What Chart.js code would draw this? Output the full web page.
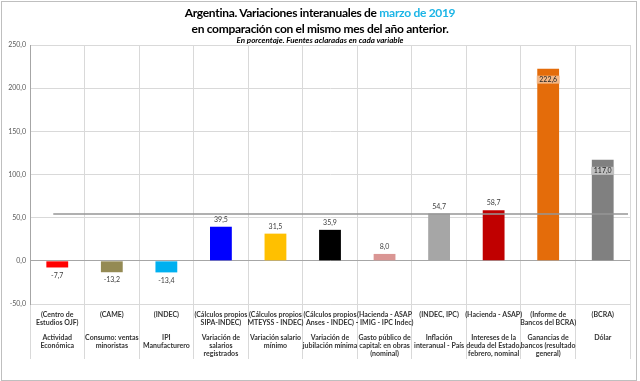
<!DOCTYPE html>
<html>
<head>
<meta charset="utf-8">
<script src="https://cdn.jsdelivr.net/npm/chart.js@4"></script>
<style>
html, body { margin: 0; padding: 0; background: #fff; }
#wrap { position: relative; width: 640px; height: 381px; overflow: hidden; }
#frame { position: absolute; left: 1px; top: 1px; width: 636px; height: 380px; border: 1px solid #BFBFBF; box-sizing: border-box; }
.t { position: absolute; left: 0; width: 640px; text-align: center; font-family: Lato, sans-serif; color: #000; white-space: nowrap; }
#t1 { top: 5px; font-size: 12px; font-weight: bold; letter-spacing: -0.3px; }
#t1 span { color: #1CB5E6; }
#t2 { top: 21px; font-size: 12px; font-weight: bold; letter-spacing: -0.3px; }
#t3 { top: 35px; font-size: 8px; font-weight: bold; font-style: italic; }
canvas { position: absolute; left: 0; top: 0; }
</style>
</head>
<body>
<div id="wrap">
  <div id="frame"></div>
  <canvas id="chart" width="640" height="381"></canvas>
  <div class="t" id="t1">Argentina. Variaciones interanuales de <span>marzo de 2019</span></div>
  <div class="t" id="t2">en comparación con el mismo mes del año anterior.</div>
  <div class="t" id="t3">En porcentaje. Fuentes aclaradas en cada variable</div>
</div>
<script>
// Fuente de cada variable
const sources = [
    ['(Centro de', 'Estudios OJF)'],
    ['(CAME)'],
    ['(INDEC)'],
    ['(Cálculos propios', 'SIPA-INDEC)'],
    ['(Cálculos propios', 'MTEYSS - INDEC)'],
    ['(Cálculos propios', 'Anses - INDEC)'],
    ['(Hacienda - ASAP', '- IMIG - IPC Indec)'],
    ['(INDEC, IPC)'],
    ['(Hacienda - ASAP)'],
    ['(Informe de', 'Bancos del BCRA)'],
    ['(BCRA)']
];

// Nombre de cada variable
const names = [
    ['Actividad', 'Económica'],
    ['Consumo: ventas', 'minoristas'],
    ['IPI', 'Manufacturero'],
    ['Variación de', 'salarios', 'registrados'],
    ['Variación salario', 'mínimo'],
    ['Variación de', 'jubilación mínima'],
    ['Gasto público de', 'capital: en obras', '(nominal)'],
    ['Inflación', 'interanual - País'],
    ['Intereses de la', 'deuda del Estado,', 'febrero, nominal'],
    ['Ganancias de', 'bancos (resultado', 'general)'],
    ['Dólar']
];

// Variacion interanual (%)
const values = [-7.7, -13.2, -13.4, 39.5, 31.5, 35.9, 8.0, 54.7, 58.7, 222.6, 117.0];

const barColors = ['#FF0000', '#948A54', '#00B0F0', '#0000FF', '#FFC000', '#000000',
                   '#DA9694', '#A6A6A6', '#C00000', '#E46C0A', '#808080'];

// eje Y
const yMin = -50;
const yMax = 250;
const yStep = 50;

// linea de referencia: inflacion interanual
const inflationRef = 54.7;

const fmt = v => v.toFixed(1).replace('.', ',');

// etiquetas: fuente (2 lineas) + separador + nombre
const labels = sources.map((s, i) => {
    const src = s.slice();
    while (src.length < 2) src.push('');
    return src.concat([''], names[i]);
});

function lighten(hex) {
    const n = parseInt(hex.slice(1), 16);
    const r = Math.round(((n >> 16) & 255) * 0.5 + 127.5);
    const g = Math.round(((n >> 8) & 255) * 0.5 + 127.5);
    const b = Math.round((n & 255) * 0.5 + 127.5);
    return 'rgb(' + r + ',' + g + ',' + b + ')';
}

// linea gris horizontal de la inflacion
const refLine = {
    id: 'refLine',
    afterDatasetsDraw(chart) {
        const { ctx, chartArea, scales } = chart;
        const yy = Math.round(scales.y.getPixelForValue(inflationRef));
        const x0 = scales.x.getPixelForValue(0) - 4;
        ctx.save();
        ctx.strokeStyle = 'rgba(150,150,150,0.75)';
        ctx.lineWidth = 2;
        ctx.beginPath();
        ctx.moveTo(x0, yy);
        ctx.lineTo(chartArea.right - 2, yy);
        ctx.stroke();
        ctx.restore();
    }
};

// valores sobre las barras
const valueLabels = {
    id: 'valueLabels',
    afterDatasetsDraw(chart) {
        const ctx = chart.ctx;
        const meta = chart.getDatasetMeta(0);
        ctx.save();
        ctx.font = '7px Lato';
        ctx.textAlign = 'center';
        ctx.textBaseline = 'middle';
        meta.data.forEach((bar, i) => {
            const v = values[i];
            const txt = fmt(v);
            let yy;
            let col = '#404040';
            if (v > 100) {
                yy = bar.y + 11;
                const w = ctx.measureText(txt).width + 5;
                ctx.fillStyle = lighten(barColors[i]);
                ctx.fillRect(bar.x - w / 2, yy - 4, w, 8);
                col = '#202020';
            } else if (v >= 0) {
                yy = bar.y - 7;
            } else {
                yy = bar.y + 8;
            }
            ctx.fillStyle = col;
            ctx.fillText(txt, bar.x, yy);
        });
        ctx.restore();
    }
};

document.addEventListener('DOMContentLoaded', function() {
const ctx = document.getElementById('chart').getContext('2d');
const chart = new Chart(ctx, {
    type: 'bar',
    data: {
        labels: labels,
        datasets: [{
            data: values,
            backgroundColor: barColors,
            categoryPercentage: 0.4,
            barPercentage: 1
        }]
    },
    options: {
        responsive: false,
        animation: false,
        layout: { padding: { top: 45, left: 0, right: 10, bottom: 18 } },
        plugins: {
            legend: { display: false },
            title: { display: false },
            tooltip: { enabled: false }
        },
        scales: {
            x: {
                grid: {
                    offset: true,
                    color: '#D9D9D9',
                    tickLength: 55,
                    tickColor: '#D9D9D9'
                },
                border: { color: '#D9D9D9' },
                ticks: {
                    padding: -48,
                    maxRotation: 0,
                    autoSkip: false,
                    color: '#333333',
                    font: { family: 'Lato', size: 7, weight: 'bold', lineHeight: 1.1 }
                },
                afterFit(scale) { scale.height = 59; }
            },
            y: {
                min: yMin,
                max: yMax,
                grid: {
                    drawTicks: false,
                    color: c => c.tick && c.tick.value === 0 ? '#A6A6A6' : '#D9D9D9'
                },
                border: { color: '#A6A6A6' },
                ticks: {
                    stepSize: yStep,
                    padding: 4,
                    color: '#595959',
                    font: { family: 'Lato', size: 7 },
                    callback: v => fmt(v)
                },
                afterFit(scale) { scale.width = 30; }
            }
        }
    },
    plugins: [refLine, valueLabels]
});
});
</script>
</body>
</html>
